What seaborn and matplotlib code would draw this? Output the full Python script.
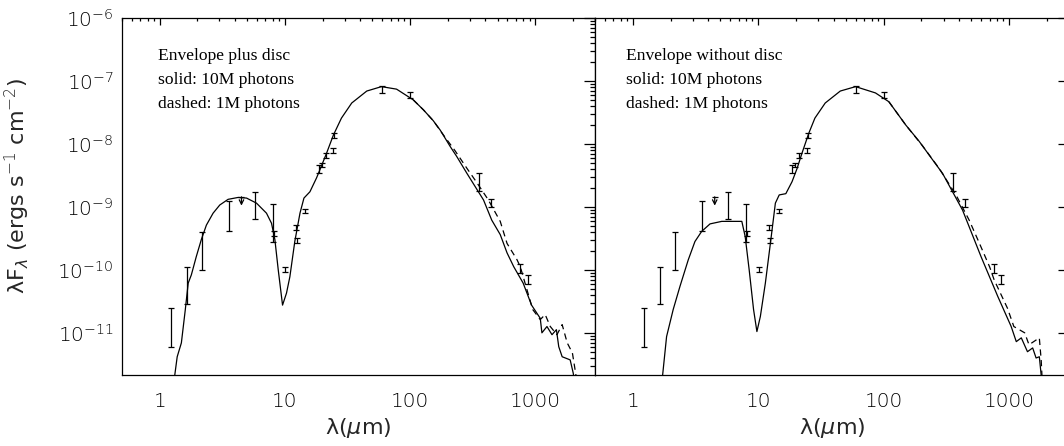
import matplotlib
matplotlib.use("Agg")
import matplotlib.pyplot as plt
import numpy as np
import pandas as pd
import seaborn as sns
from matplotlib.ticker import FuncFormatter, LogLocator, NullFormatter

# model SEDs as log10(lambda F_lambda) [ergs s^-1 cm^-2]
disc_solid_lam = [1.32, 1.38, 1.49, 1.60, 1.69, 1.79, 1.96, 2.15, 2.36, 2.67, 3.02, 3.52,
                  4.23, 4.94, 5.93, 7.13, 7.82, 8.32, 8.85, 9.58, 10.3, 10.96, 12.0, 13.2,
                  14.2, 15.85, 17.9, 19.05, 21.5, 24.4, 28.3, 34.2, 45.1, 59.1, 78, 106,
                  128, 153, 174, 209, 236, 285, 386, 449, 525, 595, 673, 800, 934, 1096,
                  1130, 1240, 1360, 1475, 1540, 1640, 1900, 2010, 2100]
disc_solid_logf = [-11.67, -11.38, -11.16, -10.64, -10.21, -10.08, -9.79, -9.52, -9.29, -9.10,
                   -8.97, -8.88, -8.85, -8.86, -8.94, -9.10, -9.26, -9.52, -10.0, -10.56,
                   -10.37, -10.11, -9.55, -9.10, -8.86, -8.76, -8.54, -8.41, -8.15, -7.86,
                   -7.59, -7.35, -7.16, -7.09, -7.13, -7.30, -7.46, -7.63, -7.78, -8.04,
                   -8.20, -8.47, -8.89, -9.21, -9.44, -9.73, -9.95, -10.21, -10.56, -10.77,
                   -11.0, -10.90, -11.03, -10.95, -11.22, -11.38, -11.43, -11.64, -11.9]
disc_dashed_lam = [106, 128, 153, 185, 229, 285, 343, 422, 525, 595, 715, 759, 954, 1096,
                   1200, 1318, 1490, 1640, 1800, 1980, 2100, 2200]
disc_dashed_logf = [-7.30, -7.46, -7.63, -7.86, -8.11, -8.39, -8.62, -8.89, -9.23, -9.58,
                    -9.84, -9.95, -10.63, -10.79, -10.71, -10.90, -11.03, -10.87, -11.16,
                    -11.32, -11.64, -11.9]

nodisc_solid_lam = [1.73, 1.86, 2.10, 2.38, 2.77, 3.13, 3.54, 4.13, 5.12, 6.16, 7.4, 7.87,
                    8.47, 9.18, 9.76, 10.4, 11.4, 12.5, 13.7, 14.7, 16.6, 18.6, 20.4, 22.3,
                    25.3, 28.3, 34.2, 45.1, 59.7, 86, 110, 150, 192, 245, 295, 425, 597,
                    811, 1038, 1140, 1250, 1400, 1540, 1640, 1740, 1800]
nodisc_solid_logf = [-11.67, -11.06, -10.63, -10.26, -9.84, -9.55, -9.39, -9.27, -9.23, -9.23,
                     -9.23, -9.47, -10.0, -10.63, -10.98, -10.74, -10.21, -9.58, -8.94, -8.81,
                     -8.79, -8.60, -8.39, -8.15, -7.83, -7.59, -7.35, -7.16, -7.09, -7.19,
                     -7.33, -7.70, -7.96, -8.25, -8.47, -9.05, -9.79, -10.42, -10.90, -11.14,
                     -11.08, -11.30, -11.24, -11.40, -11.38, -11.67]
nodisc_dashed_lam = [110, 150, 204, 277, 377, 480, 580, 698, 760, 970, 1090, 1330, 1440,
                     1740, 1800, 1850]
nodisc_dashed_logf = [-7.33, -7.70, -8.03, -8.39, -8.81, -9.21, -9.58, -9.95, -10.16, -10.61,
                      -10.90, -11.0, -11.19, -11.08, -11.43, -11.9]

# observed photometry: wavelength (micron), log10 of error bar ends
obs_lam = [1.24, 1.64, 2.16, 3.59, 5.79, 7.97, 8.2, 10.1, 12.2, 12.5, 14.6, 18.7, 19.7,
           21.2, 24.4, 24.8, 60, 100, 356, 445, 759, 868]
obs_logf_lo = [-11.22, -10.54, -10.01, -9.38, -9.19, -9.55, -9.47, -10.04, -9.37, -9.58,
               -9.09, -8.46, -8.37, -8.23, -8.15, -7.91, -7.19, -7.27, -8.74, -9.00,
               -10.05, -10.22]
obs_logf_hi = [-10.60, -9.95, -9.40, -8.90, -8.76, -8.96, -9.39, -9.96, -9.29, -9.50,
               -9.03, -8.34, -8.30, -8.14, -8.07, -7.83, -7.08, -7.17, -8.46, -8.87,
               -9.90, -10.08]
# upper limit
ul_lam = 4.5
ul_logf_top = -8.84
ul_logf_tip = -8.98

panel_notes = [
    ["Envelope plus disc", "solid: 10M photons", "dashed: 1M photons"],
    ["Envelope without disc", "solid: 10M photons", "dashed: 1M photons"],
]

sns.set_theme(style="white")
plt.rcParams.update({
    "font.family": ["DejaVu Sans"],
    "font.weight": "light",
    "mathtext.fontset": "custom",
    "mathtext.rm": "DejaVu Sans:light",
    "mathtext.it": "DejaVu Sans:italic:light",
    "mathtext.sf": "DejaVu Sans:light",
    "axes.edgecolor": "black",
    "axes.linewidth": 0.9,
    "xtick.color": "black",
    "ytick.color": "black",
    "text.color": "black",
})

W, H = 1064, 446
fig = plt.figure(figsize=(W / 100, H / 100), dpi=100)
ax1 = fig.add_axes([122 / W, 1 - 375 / H, 473 / W, 357 / H])
ax2 = fig.add_axes([595 / W, 1 - 375 / H, 474 / W, 357 / H], sharey=ax1)

models = [
    (disc_solid_lam, disc_solid_logf, disc_dashed_lam, disc_dashed_logf),
    (nodisc_solid_lam, nodisc_solid_logf, nodisc_dashed_lam, nodisc_dashed_logf),
]

obs_lo = 10 ** np.array(obs_logf_lo)
obs_hi = 10 ** np.array(obs_logf_hi)
obs_mid = np.sqrt(obs_lo * obs_hi)

for ax, (s_lam, s_logf, d_lam, d_logf), notes in zip((ax1, ax2), models, panel_notes):
    ax.set_xscale("log")
    ax.set_yscale("log")
    solid = pd.DataFrame({"lam": s_lam, "flux": 10 ** np.array(s_logf)})
    dashed = pd.DataFrame({"lam": d_lam, "flux": 10 ** np.array(d_logf)})
    sns.lineplot(data=solid, x="lam", y="flux", ax=ax, color="black", lw=0.9,
                 estimator=None, sort=False)
    sns.lineplot(data=dashed, x="lam", y="flux", ax=ax, color="black", lw=0.9,
                 estimator=None, sort=False)
    ax.lines[-1].set_dashes((5, 3.5))

    ax.errorbar(obs_lam, obs_mid, yerr=[obs_mid - obs_lo, obs_hi - obs_mid], fmt="none",
                ecolor="black", elinewidth=0.9, capsize=2.2, capthick=0.9)
    ax.plot([ul_lam], [10 ** ul_logf_top], marker="_", ms=4.5, mew=0.9, color="black")
    ax.annotate("", xy=(ul_lam, 10 ** ul_logf_tip), xytext=(ul_lam, 10 ** ul_logf_top),
                arrowprops=dict(arrowstyle="->", lw=0.9, color="black", shrinkA=0, shrinkB=0,
                                mutation_scale=8))

    for i, line in enumerate(notes):
        ax.text(0.076 if ax is ax1 else 0.065, 0.894 - i * 0.068, line, transform=ax.transAxes,
                family="Liberation Serif", fontweight="normal", fontsize=12.6,
                va="center", ha="left")

    ax.set_xlim(0.5, 3000)
    ax.set_ylim(10 ** -11.67, 1e-6)
    ax.xaxis.set_major_locator(LogLocator(base=10, numticks=10))
    ax.xaxis.set_minor_locator(LogLocator(base=10, subs=np.arange(2, 10), numticks=20))
    ax.xaxis.set_major_formatter(FuncFormatter(lambda v, p: f"{v:g}"))
    ax.xaxis.set_minor_formatter(NullFormatter())
    ax.yaxis.set_major_locator(LogLocator(base=10, numticks=12))
    ax.yaxis.set_minor_locator(LogLocator(base=10, subs=np.arange(2, 10), numticks=20))
    ax.yaxis.set_minor_formatter(NullFormatter())
    ax.tick_params(which="both", direction="in", top=True, right=True, width=0.9)
    ax.tick_params(axis="x", which="major", length=5, pad=12, labelsize=14.5)
    ax.tick_params(axis="x", which="minor", length=2.5)
    ax.tick_params(axis="y", which="major", length=8, pad=6, labelsize=14.5)
    ax.tick_params(axis="y", which="minor", length=3.8)
    ax.set_xlabel(r"λ($\mu$m)", fontsize=16, labelpad=4)
    ax.set_ylabel("")

ax1.set_ylabel(r"λF$_\lambda$ (ergs s$^{-1}$ cm$^{-2}$)", fontsize=16)
ax1.yaxis.set_label_coords(-0.19, 0.53)
ax2.tick_params(axis="y", labelleft=False)

fig.savefig("out.png", dpi=100)
